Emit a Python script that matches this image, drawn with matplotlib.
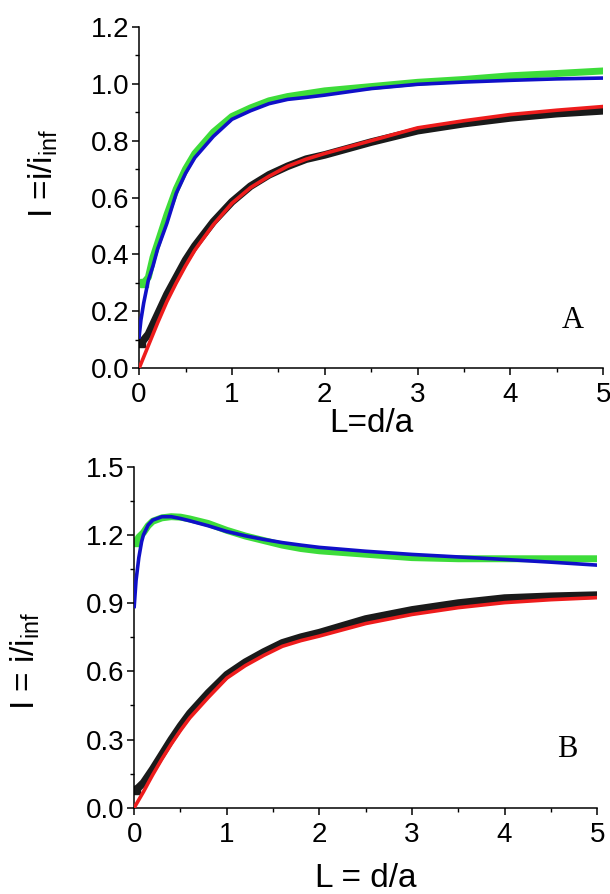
import numpy as np
import matplotlib
matplotlib.use("Agg")
import matplotlib.pyplot as plt
from matplotlib.ticker import MultipleLocator, FormatStrFormatter

plt.rcParams['font.family'] = ['Liberation Sans', 'DejaVu Sans']
plt.rcParams['mathtext.fontset'] = 'custom'
plt.rcParams['mathtext.rm'] = 'Liberation Sans'
plt.rcParams['mathtext.it'] = 'Liberation Sans'

# ---- panel A (top) ----
xa_fit = [0.0, 0.02, 0.05, 0.1, 0.15, 0.2, 0.3, 0.4, 0.5, 0.6, 0.8, 1.0, 1.2,
          1.4, 1.6, 1.8, 2.0, 2.5, 3.0, 3.5, 4.0, 4.5, 5.0]
a_blue = [0.11, 0.17, 0.23, 0.31, 0.36, 0.42, 0.51, 0.615, 0.685, 0.74, 0.815,
          0.875, 0.905, 0.93, 0.945, 0.952, 0.96, 0.983, 0.998, 1.006, 1.012,
          1.017, 1.02]
a_red = [0.0, 0.016, 0.04, 0.08, 0.12, 0.16, 0.235, 0.30, 0.36, 0.415, 0.505,
         0.58, 0.635, 0.675, 0.71, 0.735, 0.755, 0.80, 0.845, 0.87, 0.892,
         0.907, 0.92]

xa_green = [0.05, 0.1, 0.15, 0.2, 0.3, 0.4, 0.5, 0.6, 0.8, 1.0, 1.2, 1.4, 1.6,
            1.8, 2.0, 2.5, 3.0, 3.5, 4.0, 4.5, 5.0]
a_green = [0.30, 0.32, 0.39, 0.44, 0.54, 0.63, 0.70, 0.755, 0.83, 0.885, 0.915,
           0.94, 0.955, 0.965, 0.975, 0.99, 1.005, 1.015, 1.028, 1.036, 1.045]

xa_black = [0.02, 0.05, 0.1, 0.2, 0.3, 0.4, 0.5, 0.6, 0.8, 1.0, 1.2, 1.4, 1.6,
            1.8, 2.0, 2.5, 3.0, 3.5, 4.0, 4.5, 5.0]
a_black = [0.09, 0.10, 0.12, 0.19, 0.26, 0.32, 0.38, 0.43, 0.515, 0.585, 0.64,
           0.68, 0.71, 0.735, 0.75, 0.795, 0.835, 0.86, 0.88, 0.895, 0.905]

# ---- panel B (bottom) ----
xb_fit = [0.0, 0.02, 0.05, 0.08, 0.1, 0.15, 0.2, 0.3, 0.4, 0.5, 0.6, 0.8, 1.0,
          1.2, 1.4, 1.6, 1.8, 2.0, 2.5, 3.0, 3.5, 4.0, 4.5, 5.0]
b_blue = [0.885, 1.0, 1.10, 1.17, 1.20, 1.243, 1.265, 1.28, 1.28, 1.272, 1.262,
          1.24, 1.215, 1.196, 1.18, 1.166, 1.155, 1.145, 1.128, 1.114, 1.103,
          1.092, 1.08, 1.067]
b_red = [0.0, 0.014, 0.035, 0.056, 0.07, 0.108, 0.145, 0.215, 0.28, 0.34, 0.395,
         0.485, 0.57, 0.625, 0.67, 0.71, 0.735, 0.755, 0.81, 0.85, 0.88, 0.902,
         0.915, 0.924]

xb_green = [0.02, 0.05, 0.1, 0.15, 0.2, 0.3, 0.4, 0.5, 0.6, 0.8, 1.0, 1.2, 1.4,
            1.6, 1.8, 2.0, 2.5, 3.0, 3.5, 4.0, 4.5, 5.0]
b_green = [1.17, 1.19, 1.21, 1.24, 1.26, 1.275, 1.28, 1.278, 1.27, 1.25, 1.22,
           1.195, 1.175, 1.155, 1.14, 1.13, 1.115, 1.10, 1.095, 1.095, 1.095,
           1.095]

xb_black = [0.02, 0.05, 0.1, 0.2, 0.3, 0.4, 0.5, 0.6, 0.8, 1.0, 1.2, 1.4, 1.6,
            1.8, 2.0, 2.5, 3.0, 3.5, 4.0, 4.5, 5.0]
b_black = [0.08, 0.09, 0.11, 0.17, 0.235, 0.30, 0.36, 0.415, 0.505, 0.585, 0.64,
           0.685, 0.725, 0.75, 0.77, 0.83, 0.87, 0.90, 0.922, 0.93, 0.935]

GREEN = '#3ddc3a'
BLUE = '#1010c8'
RED = '#ee1c1c'
BLACK = '#1a1a1a'


def style_axes(ax, ymax, ymajor, yminor):
    ax.set_xlim(0, 5)
    ax.set_ylim(0, ymax)
    for s in ['top', 'right']:
        ax.spines[s].set_visible(False)
    for s in ['left', 'bottom']:
        ax.spines[s].set_linewidth(1.1)
    ax.xaxis.set_major_locator(MultipleLocator(1))
    ax.xaxis.set_minor_locator(MultipleLocator(0.5))
    ax.yaxis.set_major_locator(MultipleLocator(ymajor))
    ax.yaxis.set_minor_locator(MultipleLocator(yminor))
    ax.yaxis.set_major_formatter(FormatStrFormatter('%.1f'))
    ax.tick_params(which='major', direction='out', length=5, width=1.1,
                   labelsize=20, pad=2)
    ax.tick_params(axis='x', which='major', pad=5)
    ax.tick_params(which='minor', direction='out', length=3, width=1.0)


def draw_panel(ax, xg, g, xbk, bk, xf, blue, red):
    # measured data as thick bands, fits as thinner lines on top
    ax.plot(xg, g, color=GREEN, lw=5, solid_capstyle='butt', zorder=2)
    ax.plot(xg[:1], g[:1], 's', ms=6, color=GREEN, zorder=2)
    ax.plot(xbk, bk, color=BLACK, lw=5.5, solid_capstyle='butt', zorder=2)
    ax.plot(xbk[:1], bk[:1], 's', ms=6, color=BLACK, zorder=2)
    ax.plot(xf, blue, color=BLUE, lw=2.6, zorder=3)
    ax.plot(xf, red, color=RED, lw=2.6, zorder=3)


fig = plt.figure(figsize=(6.10, 8.94), dpi=100)

ax1 = fig.add_axes([0.228, 0.588, 0.761, 0.382])
draw_panel(ax1, xa_green, a_green, xa_black, a_black, xa_fit, a_blue, a_red)
style_axes(ax1, 1.2, 0.2, 0.1)
ax1.set_xlabel('L=d/a', fontsize=24, labelpad=0)
ax1.set_ylabel(r'I =i/i$_{\mathrm{inf}}$', fontsize=24)
ax1.yaxis.set_label_coords(-0.17, 0.57)
ax1.text(0.935, 0.14, 'A', transform=ax1.transAxes, fontsize=22,
         family=['Liberation Serif', 'DejaVu Serif'], ha='center', va='center')

ax2 = fig.add_axes([0.220, 0.0965, 0.759, 0.3815])
draw_panel(ax2, xb_green, b_green, xb_black, b_black, xb_fit, b_blue, b_red)
style_axes(ax2, 1.5, 0.3, 0.15)
ax2.set_xlabel('L = d/a', fontsize=24, labelpad=11)
ax2.set_ylabel(r'I = i/i$_{\mathrm{inf}}$', fontsize=24)
ax2.yaxis.set_label_coords(-0.20, 0.43)
ax2.text(0.935, 0.17, 'B', transform=ax2.transAxes, fontsize=22,
         family=['Liberation Serif', 'DejaVu Serif'], ha='center', va='center')

fig.savefig('out.png', dpi=100)
